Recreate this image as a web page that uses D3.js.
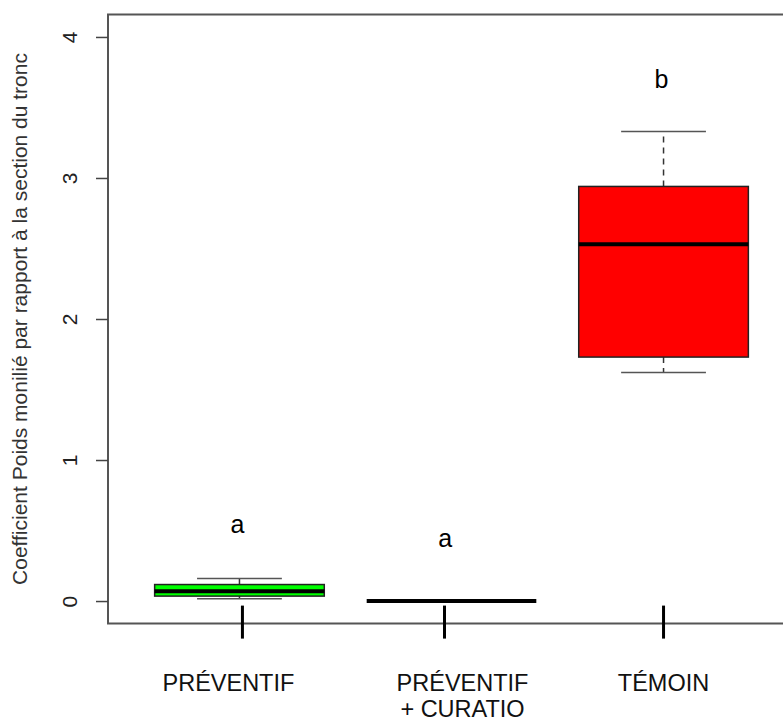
<!DOCTYPE html>
<html>
<head>
<meta charset="utf-8">
<script src="https://cdn.jsdelivr.net/npm/d3@7"></script>
<style>
  body { margin: 0; background: #fff; }
  svg { display: block; font-family: "Liberation Sans", Arial, sans-serif; }
</style>
</head>
<body>
<script>
const width = 783, height = 722;

// groups and their box stats
const groups = ["PRÉVENTIF", "PRÉVENTIF\n+ CURATIO", "TÉMOIN"];
const fills = ["#00ff00", "#ff0000", "#ff0000"];
const lowWhisk = [0.016, 0, 1.62];
const q1 = [0.035, 0, 1.73];
const medians = [0.07, 0, 2.53];
const q3 = [0.117, 0, 2.94];
const highWhisk = [0.16, 0, 3.33];

// significance letters
const letters = ["a", "a", "b"];
const letterY = [0.48, 0.38, 3.64];
const letterX = [0.99, 1.97, 2.99];

// custom x tick / label positions
const tickPos = [1.014, 1.967, 3.0];
const labelPos = [0.948, 2.052, 3.0];
const yTicks = [0, 1, 2, 3, 4];

const svg = d3.select("body").append("svg")
    .attr("width", width)
    .attr("height", height);

// R style: limits padded by 4%
const x = d3.scaleLinear().domain([0.38, 3.62]).range([108, 795]);
const y = d3.scaleLinear().domain([-0.16, 4.16]).range([623.6, 14.4]);

const boxW = 0.8, capW = 0.4;

// frame (right edge falls outside the picture)
svg.append("path")
    .attr("d", `M${x(3.62)},${y(4.16)}H${x(0.38)}V${y(-0.16)}H${x(3.62)}`)
    .attr("fill", "none")
    .attr("stroke", "#555")
    .attr("stroke-width", 2);

// y axis
const yAxis = svg.append("g")
    .attr("transform", `translate(${x(0.38)},0)`)
    .call(d3.axisLeft(y).tickValues(yTicks).tickSize(12).tickPadding(0).tickFormat(d3.format("d")));
yAxis.select(".domain").remove();
yAxis.selectAll(".tick line").attr("stroke", "#444").attr("stroke-width", 1.5);
yAxis.selectAll(".tick text")
    .attr("transform", "rotate(-90)")
    .attr("x", 0)
    .attr("y", -37)
    .attr("dy", 0)
    .attr("text-anchor", "middle")
    .attr("dominant-baseline", "middle")
    .attr("font-size", 21)
    .attr("fill", "#222");

svg.append("text")
    .attr("transform", `translate(21,${y(2)}) rotate(-90)`)
    .attr("text-anchor", "middle")
    .attr("dominant-baseline", "middle")
    .attr("font-size", 21)
    .attr("fill", "#333")
    .text("Coefficient Poids monilié par rapport à la section du tronc");

// boxes
const g = svg.selectAll("g.box")
    .data(groups)
    .join("g")
    .attr("class", "box");

// whiskers
g.append("line")
    .attr("x1", (d, i) => x(i + 1)).attr("x2", (d, i) => x(i + 1))
    .attr("y1", (d, i) => y(q3[i])).attr("y2", (d, i) => y(highWhisk[i]))
    .attr("stroke", "#333").attr("stroke-width", 1.5).attr("stroke-dasharray", "6,5");
g.append("line")
    .attr("x1", (d, i) => x(i + 1)).attr("x2", (d, i) => x(i + 1))
    .attr("y1", (d, i) => y(q1[i])).attr("y2", (d, i) => y(lowWhisk[i]))
    .attr("stroke", "#333").attr("stroke-width", 1.5).attr("stroke-dasharray", "6,5");
// caps
g.append("line")
    .attr("x1", (d, i) => x(i + 1 - capW / 2)).attr("x2", (d, i) => x(i + 1 + capW / 2))
    .attr("y1", (d, i) => y(highWhisk[i])).attr("y2", (d, i) => y(highWhisk[i]))
    .attr("stroke", "#555").attr("stroke-width", 1.5);
g.append("line")
    .attr("x1", (d, i) => x(i + 1 - capW / 2)).attr("x2", (d, i) => x(i + 1 + capW / 2))
    .attr("y1", (d, i) => y(lowWhisk[i])).attr("y2", (d, i) => y(lowWhisk[i]))
    .attr("stroke", "#555").attr("stroke-width", 1.5);
// box
g.append("rect")
    .attr("x", (d, i) => x(i + 1 - boxW / 2))
    .attr("width", x(1 + boxW / 2) - x(1 - boxW / 2))
    .attr("y", (d, i) => y(q3[i]))
    .attr("height", (d, i) => y(q1[i]) - y(q3[i]))
    .attr("fill", (d, i) => fills[i])
    .attr("stroke", "#222").attr("stroke-width", 1.5);
// median
g.append("line")
    .attr("x1", (d, i) => x(i + 1 - boxW / 2)).attr("x2", (d, i) => x(i + 1 + boxW / 2))
    .attr("y1", (d, i) => y(medians[i])).attr("y2", (d, i) => y(medians[i]))
    .attr("stroke", "#000").attr("stroke-width", 4);

// letters
svg.selectAll("text.letter")
    .data(letters)
    .join("text")
    .attr("class", "letter")
    .attr("x", (d, i) => x(letterX[i]))
    .attr("y", (d, i) => y(letterY[i]))
    .attr("text-anchor", "middle")
    .attr("font-size", 25)
    .attr("fill", "#000")
    .text(d => d);

// x tick marks crossing the bottom edge
svg.selectAll("line.xtick")
    .data(tickPos)
    .join("line")
    .attr("class", "xtick")
    .attr("x1", d => x(d)).attr("x2", d => x(d))
    .attr("y1", y(-0.16) - 18).attr("y2", y(-0.16) + 15)
    .attr("stroke", "#000").attr("stroke-width", 3);

// category labels
svg.selectAll("text.xlab")
    .data(groups)
    .join("text")
    .attr("class", "xlab")
    .attr("x", (d, i) => x(labelPos[i]))
    .attr("y", 691)
    .attr("text-anchor", "middle")
    .attr("font-size", 23.5)
    .attr("fill", "#111")
    .each(function (d) {
        const t = d3.select(this);
        d.split("\n").forEach((line, k) => {
            t.append("tspan")
                .attr("x", t.attr("x"))
                .attr("dy", k === 0 ? 0 : 26)
                .text(line);
        });
    });
</script>
</body>
</html>
